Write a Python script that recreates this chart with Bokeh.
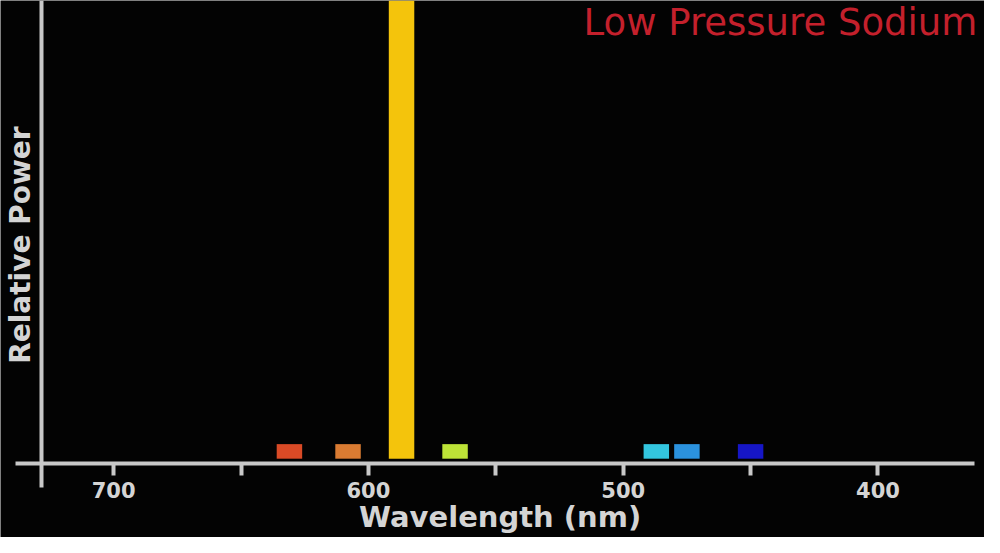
import math
from bokeh.plotting import figure
from bokeh.models import Range1d, LinearAxis, FixedTicker, Label, ColumnDataSource
from bokeh.embed import file_html
from bokeh.resources import INLINE

# ---- data ----
wavelengths = [631, 608, 587, 566, 487, 475, 450]
power = [0.032, 0.032, 1.05, 0.032, 0.032, 0.032, 0.032]
colors = ["#d94a26", "#d97b32", "#f4c40c", "#bde337", "#33c6df", "#2b92de", "#1616c6"]
tick_values = [700, 650, 600, 550, 500, 450, 400]
tick_labels = ["700", "", "600", "", "500", "", "400"]
title_text = "Low Pressure Sodium"
x_label = "Wavelength (nm)"
y_label = "Relative Power"

BASE = 0.011   # small gap between bars and the axis line
AXIS_COLOR = "#c8c8c8"
LABEL_COLOR = "#d4d4d4"
FONT = "DejaVu Sans"

p = figure(width=984, height=537,
           x_range=Range1d(744.4, 358.2), y_range=Range1d(-0.162, 1.017),
           output_backend="svg", toolbar_location=None, min_border=0,
           x_axis_type=None, y_axis_type=None,
           background_fill_color="#030303", border_fill_color="#030303",
           outline_line_color=None)

src = ColumnDataSource(dict(
    x=wavelengths,
    bottom=[BASE] * len(power),
    top=[BASE + v for v in power],
    color=colors,
))
p.vbar(x="x", width=10, bottom="bottom", top="top", color="color",
       line_color=None, source=src)

xaxis = LinearAxis(fixed_location=0, bounds=(738.6, 362.2),
                   ticker=FixedTicker(ticks=tick_values, minor_ticks=[]),
                   major_label_overrides={v: l for v, l in zip(tick_values, tick_labels)})
xaxis.axis_line_color = AXIS_COLOR
xaxis.axis_line_width = 4
xaxis.major_tick_line_color = AXIS_COLOR
xaxis.major_tick_line_width = 4
xaxis.major_tick_in = 0
xaxis.major_tick_out = 12
xaxis.minor_tick_line_color = None
xaxis.major_label_text_color = LABEL_COLOR
xaxis.major_label_text_font = FONT
xaxis.major_label_text_font_style = "bold"
xaxis.major_label_text_font_size = "21px"
xaxis.major_label_standoff = 6
p.add_layout(xaxis, "below")

yaxis = LinearAxis(fixed_location=728.2, bounds=(-0.053, 1.017),
                   ticker=FixedTicker(ticks=[], minor_ticks=[]))
yaxis.axis_line_color = AXIS_COLOR
yaxis.axis_line_width = 4
yaxis.major_tick_line_color = None
yaxis.minor_tick_line_color = None
yaxis.major_label_text_font_size = "0px"
p.add_layout(yaxis, "left")

p.add_layout(Label(x=361.0, y=1.015, text=title_text, text_align="right",
                   text_baseline="top", text_color="#c4202c",
                   text_font=FONT, text_font_size="37px"))
p.add_layout(Label(x=548.3, y=-0.118, text=x_label, text_align="center",
                   text_baseline="middle", text_color=LABEL_COLOR,
                   text_font=FONT, text_font_style="bold", text_font_size="29px"))
p.add_layout(Label(x=736.5, y=0.48, text=y_label, text_align="center",
                   text_baseline="middle", angle=math.pi / 2,
                   text_color=LABEL_COLOR, text_font=FONT,
                   text_font_style="bold", text_font_size="28px"))

open("out.html", "w").write(file_html(p, INLINE))
